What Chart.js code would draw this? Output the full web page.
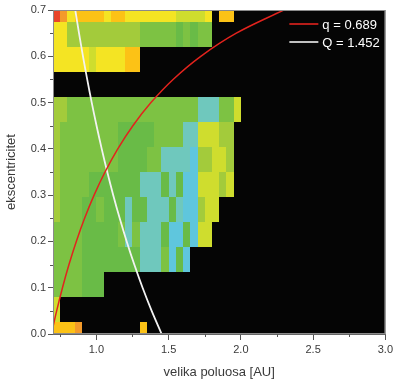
<!DOCTYPE html>
<html><head><meta charset="utf-8">
<script src="https://cdn.jsdelivr.net/npm/chart.js@4.4.0/dist/chart.umd.min.js"></script>
<style>html,body{margin:0;padding:0;background:#fff;overflow:hidden}</style>
</head><body>
<canvas id="c" width="396" height="387" style="width:396px;height:387px;display:block"></canvas>
<script>
// ---- data ----
const aEdges = [0.70,0.75,0.80,0.85,0.90,0.95,1.00,1.05,1.10,1.15,1.20,1.25,1.30,1.35,1.40,1.45,1.50,1.55,1.60,1.65,1.70,1.75,1.80,1.85,1.90,1.95,2.00];
const eCenters = [0,0.0538,0.1077,0.1615,0.2154,0.2692,0.3231,0.3769,0.4308,0.4846,0.5385,0.5923,0.6462,0.7];
// density class per cell (0 = empty), rows from e=0 upward, columns along aEdges
const densityRows = [
  [8,8,8,9,0,0,0,0,0,0,0,0,8,0,0,0,0,0,0,0,0,0,0,0,0,0],
  [6,0,0,0,0,0,0,0,0,0,0,0,0,0,0,0,0,0,0,0,0,0,0,0,0,0],
  [4,4,4,4,3,3,3,0,0,0,0,0,0,0,0,0,0,0,0,0,0,0,0,0,0,0],
  [4,4,4,4,3,3,3,3,3,3,3,3,2,2,2,4,1,3,1,0,0,0,0,0,0,0],
  [4,4,4,4,3,3,3,3,3,4,2,4,2,2,2,3,1,1,3,1,6,6,0,0,0,0],
  [5,4,4,4,3,3,4,3,3,3,2,3,3,2,2,2,3,2,1,1,5,6,6,0,0,0],
  [5,4,4,4,4,3,3,3,3,3,3,3,2,2,2,3,2,3,1,1,6,6,6,5,6,0],
  [5,4,4,4,4,4,4,4,4,3,3,3,3,4,4,2,2,2,2,1,5,5,6,6,5,0],
  [5,4,4,4,4,4,4,4,4,3,3,3,3,3,4,4,4,4,2,2,6,6,6,5,5,0],
  [5,5,4,4,4,4,4,4,4,4,4,4,4,4,4,4,4,4,4,4,2,2,2,4,4,6],
  [0,0,0,0,0,0,0,0,0,0,0,0,0,0,0,0,0,0,0,0,0,0,0,0,0,0],
  [7,7,7,7,7,6,7,7,7,7,8,8,0,0,0,0,0,0,0,0,0,0,0,0,0,0],
  [7,7,5,5,5,5,5,5,5,5,5,5,4,4,4,4,4,3,4,3,4,4,0,0,0,0],
  [10,9,7,8,8,8,8,7,8,8,7,7,7,7,7,7,7,6,6,6,6,7,0,8,8,0]
];
const curveE = [0,0.05,0.10,0.15,0.20,0.25,0.30,0.35,0.40,0.45,0.50,0.55,0.60,0.65,0.70];
const qCurveA = [0.689,0.7253,0.7656,0.8106,0.8613,0.9187,0.9843,1.0600,1.1483,1.2527,1.3780,1.5311,1.7225,1.9686,2.2967];
const QCurveA = [1.452,1.3829,1.3200,1.2626,1.2100,1.1616,1.1169,1.0756,1.0371,1.0014,0.9680,0.9368,0.9075,0.8800,0.8541];
const seriesLabels = ['q = 0.689','Q = 1.452'];
const xTickValues = [1.0,1.5,2.0,2.5,3.0];
const yTickValues = [0,0.1,0.2,0.3,0.4,0.5,0.6,0.7];
const xMinorTicks = [0.75,1.25,1.75,2.25,2.75];
const yMinorTicks = [0.05,0.15,0.25,0.35,0.45,0.55,0.65];

// ---- styles ----
const palette = [null,'#5fc6dd','#6fc8bd','#69bb47','#7dc243','#a3cb3b','#cfdd2e','#f4e423','#fcc216','#f39a2a','#e8442a'];
const lineColors = ['#e2231d','#f2f2f2'];
const textColor = '#3a3a3a';

const heatPlugin = {
  id:'heat',
  beforeDatasetsDraw(chart){
    const {ctx, chartArea:ca, scales:{x,y}} = chart;
    ctx.save();
    ctx.fillStyle = '#050505';
    ctx.fillRect(ca.left, ca.top, ca.right-ca.left, ca.bottom-ca.top);
    ctx.beginPath(); ctx.rect(ca.left, ca.top, ca.right-ca.left, ca.bottom-ca.top); ctx.clip();
    const half = (eCenters[1]-eCenters[0])/2;
    densityRows.forEach((row, r) => {
      const e0 = Math.max(y.min, eCenters[r]-half), e1 = Math.min(y.max, eCenters[r]+half);
      const yt = Math.round(y.getPixelForValue(e1)), yb = Math.round(y.getPixelForValue(e0));
      row.forEach((v,k) => {
        if (!v) return;
        const xl = Math.round(x.getPixelForValue(aEdges[k])), xr = Math.round(x.getPixelForValue(aEdges[k+1]));
        ctx.fillStyle = palette[v];
        ctx.fillRect(xl, yt, xr-xl, yb-yt);
      });
    });
    ctx.restore();
  },
  afterDatasetsDraw(chart){
    const {ctx, chartArea:ca} = chart;
    ctx.save();
    // frame
    ctx.strokeStyle = '#8a8a8a'; ctx.lineWidth = 1;
    ctx.strokeRect(ca.left+0.5, ca.top+0.5, ca.right-ca.left-1, ca.bottom-ca.top-1);
    // legend
    ctx.font = '13px "Liberation Sans", Arial, sans-serif';
    ctx.textBaseline = 'middle'; ctx.textAlign = 'left';
    chart.data.datasets.forEach((ds, i) => {
      const yy = ca.top + 14 + i*18;
      ctx.strokeStyle = ds.borderColor; ctx.lineWidth = 1.6;
      ctx.beginPath(); ctx.moveTo(ca.right-96, yy); ctx.lineTo(ca.right-67, yy); ctx.stroke();
      ctx.fillStyle = '#ffffff';
      ctx.fillText(ds.label, ca.right-63, yy+1);
    });
    ctx.restore();
  },
  afterDraw(chart){
    const {ctx, chartArea:ca, scales:{x,y}} = chart;
    ctx.save();
    ctx.strokeStyle = '#555'; ctx.lineWidth = 1;
    ctx.beginPath();
    yMinorTicks.forEach(v => { const p = Math.round(y.getPixelForValue(v))+0.5; ctx.moveTo(ca.left-3, p); ctx.lineTo(ca.left, p); });
    xMinorTicks.forEach(v => { const p = Math.round(x.getPixelForValue(v))+0.5; ctx.moveTo(p, ca.bottom); ctx.lineTo(p, ca.bottom+3); });
    ctx.stroke();
    ctx.restore();
  }
};

const font11 = {family:'"Liberation Sans", Arial, sans-serif', size:11};
const font13 = {family:'"Liberation Sans", Arial, sans-serif', size:13};

new Chart(document.getElementById('c'), {
  type:'scatter',
  data:{
    datasets:[
      {label:seriesLabels[0], data:curveE.map((e,i)=>({x:qCurveA[i], y:e})), showLine:true, borderColor:lineColors[0], borderWidth:1.5, pointRadius:0, tension:0.35},
      {label:seriesLabels[1], data:curveE.map((e,i)=>({x:QCurveA[i], y:e})), showLine:true, borderColor:lineColors[1], borderWidth:1.8, pointRadius:0, tension:0.35}
    ]
  },
  options:{
    responsive:false, animation:false, devicePixelRatio:1,
    layout:{padding:{top:10, right:8, left:0, bottom:0}},
    plugins:{legend:{display:false}, tooltip:{enabled:false}},
    scales:{
      x:{
        type:'linear', min:0.7, max:3.0,
        afterBuildTicks:s=>{ s.ticks = xTickValues.map(v=>({value:v})); },
        afterFit:s=>{ s.height = 53; },
        ticks:{callback:v=>Number(v).toFixed(1), font:font11, color:textColor, padding:3, maxRotation:0, autoSkip:false},
        grid:{drawOnChartArea:false, tickLength:6, tickColor:'#555'},
        border:{color:'#666'},
        title:{display:true, text:'velika poluosa [AU]', font:font13, color:textColor, padding:{bottom:7, top:0}}
      },
      y:{
        type:'linear', min:0, max:0.7,
        afterBuildTicks:s=>{ s.ticks = yTickValues.map(v=>({value:v})); },
        afterFit:s=>{ s.width = 53; },
        ticks:{callback:v=>Number(v).toFixed(1), font:font11, color:textColor, padding:2, autoSkip:false},
        grid:{drawOnChartArea:false, tickLength:5, tickColor:'#555'},
        border:{color:'#666'},
        title:{display:true, text:'ekscentricitet', font:font13, color:textColor, padding:{top:4, bottom:0}}
      }
    }
  },
  plugins:[heatPlugin]
});
</script>
</body></html>
